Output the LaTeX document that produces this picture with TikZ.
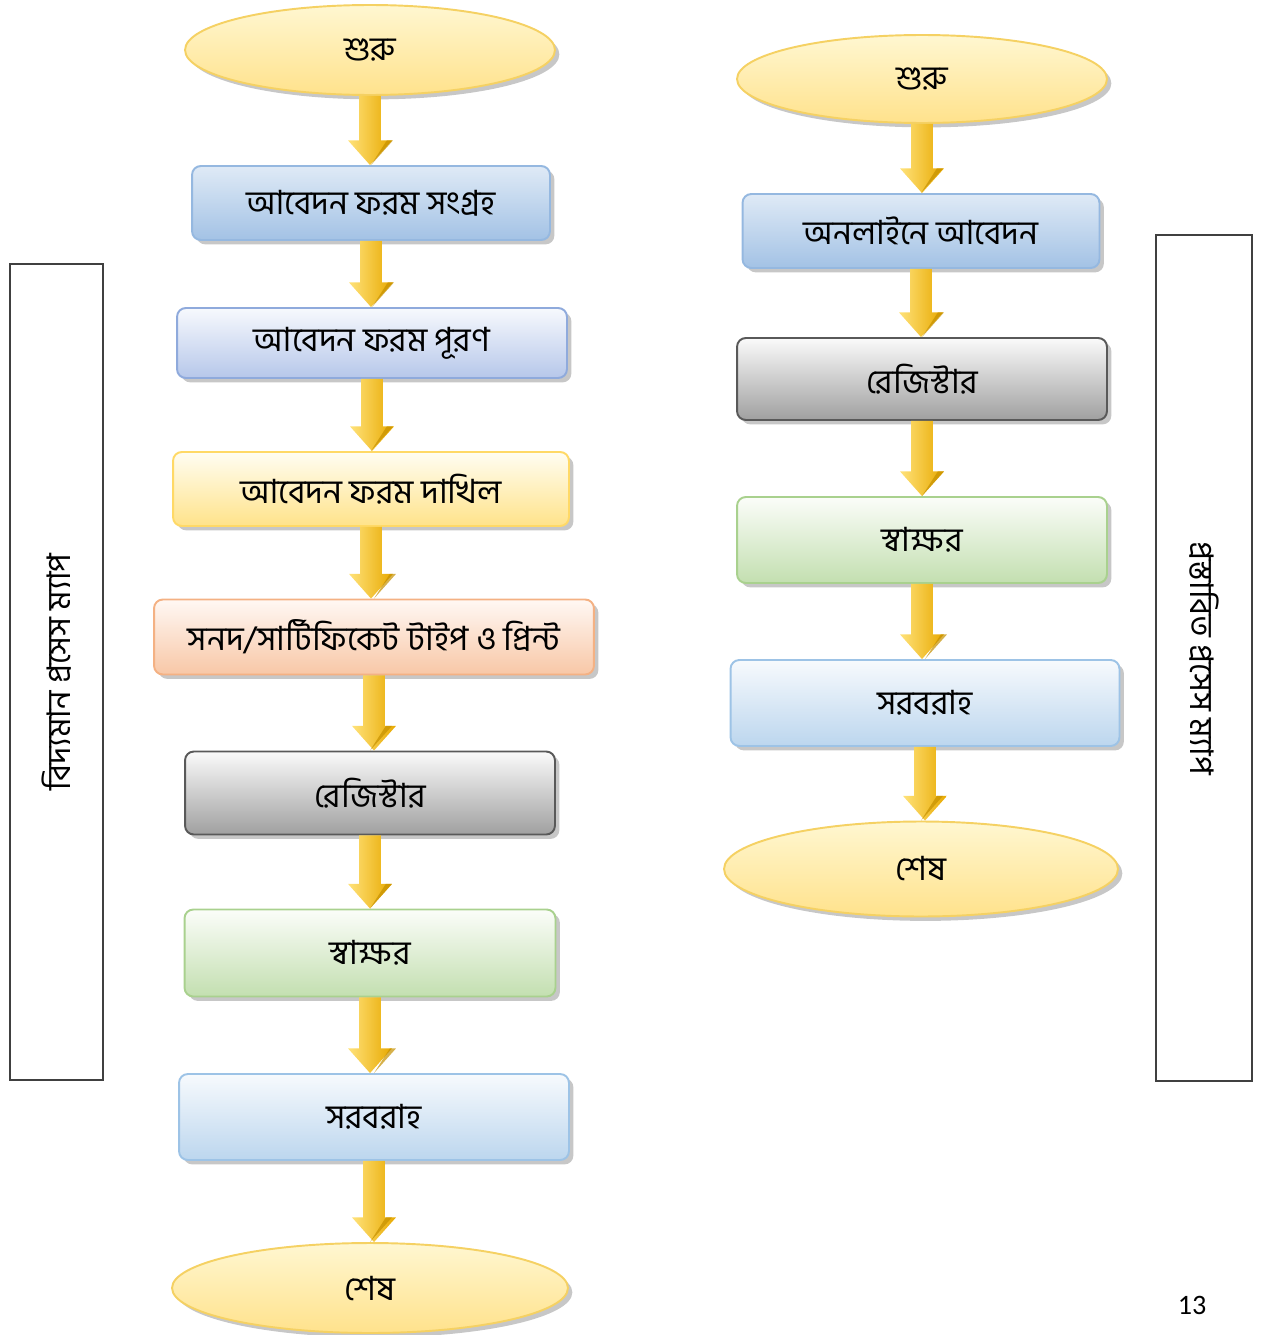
\documentclass[tikz,border=0pt]{standalone}
\usepackage{fontspec}
\setmainfont[Script=Bengali]{Hind Siliguri}
\newfontfamily\numfont{Carlito}
\usetikzlibrary{shapes.geometric,shadows,calc}

\definecolor{ovalTop}{HTML}{FFF7D1}
\definecolor{ovalBot}{HTML}{FFE28C}
\definecolor{ovalLine}{HTML}{F5D163}
\definecolor{arrL}{HTML}{FFE27A}
\definecolor{arrM}{HTML}{FFC000}
\definecolor{arrR}{HTML}{E8A900}
\definecolor{aTop}{HTML}{DFEAF6}\definecolor{aBot}{HTML}{A3C2E5}\definecolor{aLine}{HTML}{95B8E0}
\definecolor{bTop}{HTML}{F7F9FD}\definecolor{bBot}{HTML}{B6C7EA}\definecolor{bLine}{HTML}{8FAADC}
\definecolor{cTop}{HTML}{FFFDF2}\definecolor{cBot}{HTML}{FFE38A}\definecolor{cLine}{HTML}{FFD966}
\definecolor{dTop}{HTML}{FFF8F4}\definecolor{dBot}{HTML}{F8C7A6}\definecolor{dLine}{HTML}{F4B183}
\definecolor{eTop}{HTML}{FAFAFA}\definecolor{eBot}{HTML}{A0A0A0}\definecolor{eLine}{HTML}{595959}
\definecolor{fTop}{HTML}{FBFDF9}\definecolor{fBot}{HTML}{C3DFB0}\definecolor{fLine}{HTML}{A9D18E}
\definecolor{gTop}{HTML}{F7FAFD}\definecolor{gBot}{HTML}{BCD6EE}\definecolor{gLine}{HTML}{9DC3E6}

% one gray drop shadow for every shape
\tikzset{
	shapebase/.style={line width=1.1pt, inner sep=0pt,
		font=\fontsize{19}{22}\selectfont,
		drop shadow={shadow xshift=2.5pt, shadow yshift=-2.5pt, fill=black!40, opacity=0.55}},
	oval/.style={shapebase, ellipse, top color=ovalTop, bottom color=ovalBot, draw=ovalLine},
	flowbox/.style={shapebase, rectangle, rounded corners=5pt},
	boxA/.style={flowbox, top color=aTop, bottom color=aBot, draw=aLine},
	boxB/.style={flowbox, top color=bTop, bottom color=bBot, draw=bLine},
	boxC/.style={flowbox, top color=cTop, bottom color=cBot, draw=cLine},
	boxD/.style={flowbox, top color=dTop, bottom color=dBot, draw=dLine},
	boxE/.style={flowbox, top color=eTop, bottom color=eBot, draw=eLine},
	boxF/.style={flowbox, top color=fTop, bottom color=fBot, draw=fLine},
	boxG/.style={flowbox, top color=gTop, bottom color=gBot, draw=gLine},
	sidebox/.style={draw=black!75, line width=0.8pt, inner sep=0pt,
		font=\fontsize{18.5}{21}\selectfont}
}

\newcommand{\flowarrow}[2]{
	\shade[left color=arrL, middle color=arrM, right color=arrR]
		let \p1=(#1.south), \p2=(#2.north) in
		(\x1-6.2pt,\y1) -- (\x1+6.2pt,\y1) -- (\x1+6.2pt,\y2+14pt) -- (\x1+12.5pt,\y2+14pt)
		-- (\x1,\y2) -- (\x1-12.5pt,\y2+14pt) -- (\x1-6.2pt,\y2+14pt) -- cycle;
	\fill[arrR!85!black, opacity=0.7] let \p2=(#2.north) in
		(\x2,\y2) -- (\x2+12.5pt,\y2+14pt) -- (\x2+9pt,\y2+14pt) -- cycle;
}

\begin{document}
\begin{tikzpicture}[x=0.02cm, y=-0.02cm]
\useasboundingbox (0,0) rectangle (1261,1335);

% current process
\node[oval, minimum width=7.4cm, minimum height=1.8cm] (s1) at (370,50) {শুরু};
\node[boxA, minimum width=7.16cm, minimum height=1.48cm] (a1) at (371,203) {আবেদন ফরম সংগ্রহ};
\node[boxB, minimum width=7.8cm, minimum height=1.4cm] (a2) at (372,343) {আবেদন ফরম পূরণ};
\node[boxC, minimum width=7.92cm, minimum height=1.48cm] (a3) at (371,489) {আবেদন ফরম দাখিল};
\node[boxD, minimum width=8.8cm, minimum height=1.5cm] (a4) at (374,637) {সনদ/সার্টিফিকেট টাইপ ও প্রিন্ট};
\node[boxE, minimum width=7.4cm, minimum height=1.66cm] (a5) at (370,793) {রেজিস্টার};
\node[boxF, minimum width=7.42cm, minimum height=1.74cm] (a6) at (370,953) {স্বাক্ষর};
\node[boxG, minimum width=7.8cm, minimum height=1.72cm] (a7) at (374,1117) {সরবরাহ};
\node[oval, minimum width=7.92cm, minimum height=1.8cm] (e1) at (370,1288) {শেষ};

% proposed process
\node[oval, minimum width=7.4cm, minimum height=1.76cm] (s2) at (922,79) {শুরু};
\node[boxA, minimum width=7.14cm, minimum height=1.48cm] (b1) at (921,231) {অনলাইনে আবেদন};
\node[boxE, minimum width=7.4cm, minimum height=1.64cm] (b2) at (922,379) {রেজিস্টার};
\node[boxF, minimum width=7.4cm, minimum height=1.72cm] (b3) at (922,540) {স্বাক্ষর};
\node[boxG, minimum width=7.78cm, minimum height=1.72cm] (b4) at (925,703) {সরবরাহ};
\node[oval, minimum width=7.88cm, minimum height=1.9cm] (e2) at (921,869) {শেষ};

\flowarrow{s1}{a1}
\flowarrow{a1}{a2}
\flowarrow{a2}{a3}
\flowarrow{a3}{a4}
\flowarrow{a4}{a5}
\flowarrow{a5}{a6}
\flowarrow{a6}{a7}
\flowarrow{a7}{e1}

\flowarrow{s2}{b1}
\flowarrow{b1}{b2}
\flowarrow{b2}{b3}
\flowarrow{b3}{b4}
\flowarrow{b4}{e2}

% side labels
\node[sidebox, rotate=90, minimum width=16.32cm, minimum height=1.86cm] (old) at (56.5,672) {বিদ্যমান প্রসেস ম্যাপ};
\node[sidebox, rotate=-90, minimum width=16.92cm, minimum height=1.92cm] (new) at (1204,658) {প্রস্তাবিত প্রসেস ম্যাপ};

\node[font=\numfont\fontsize{16}{18}\selectfont] (page) at (1192,1305) {13};
\end{tikzpicture}
\end{document}
